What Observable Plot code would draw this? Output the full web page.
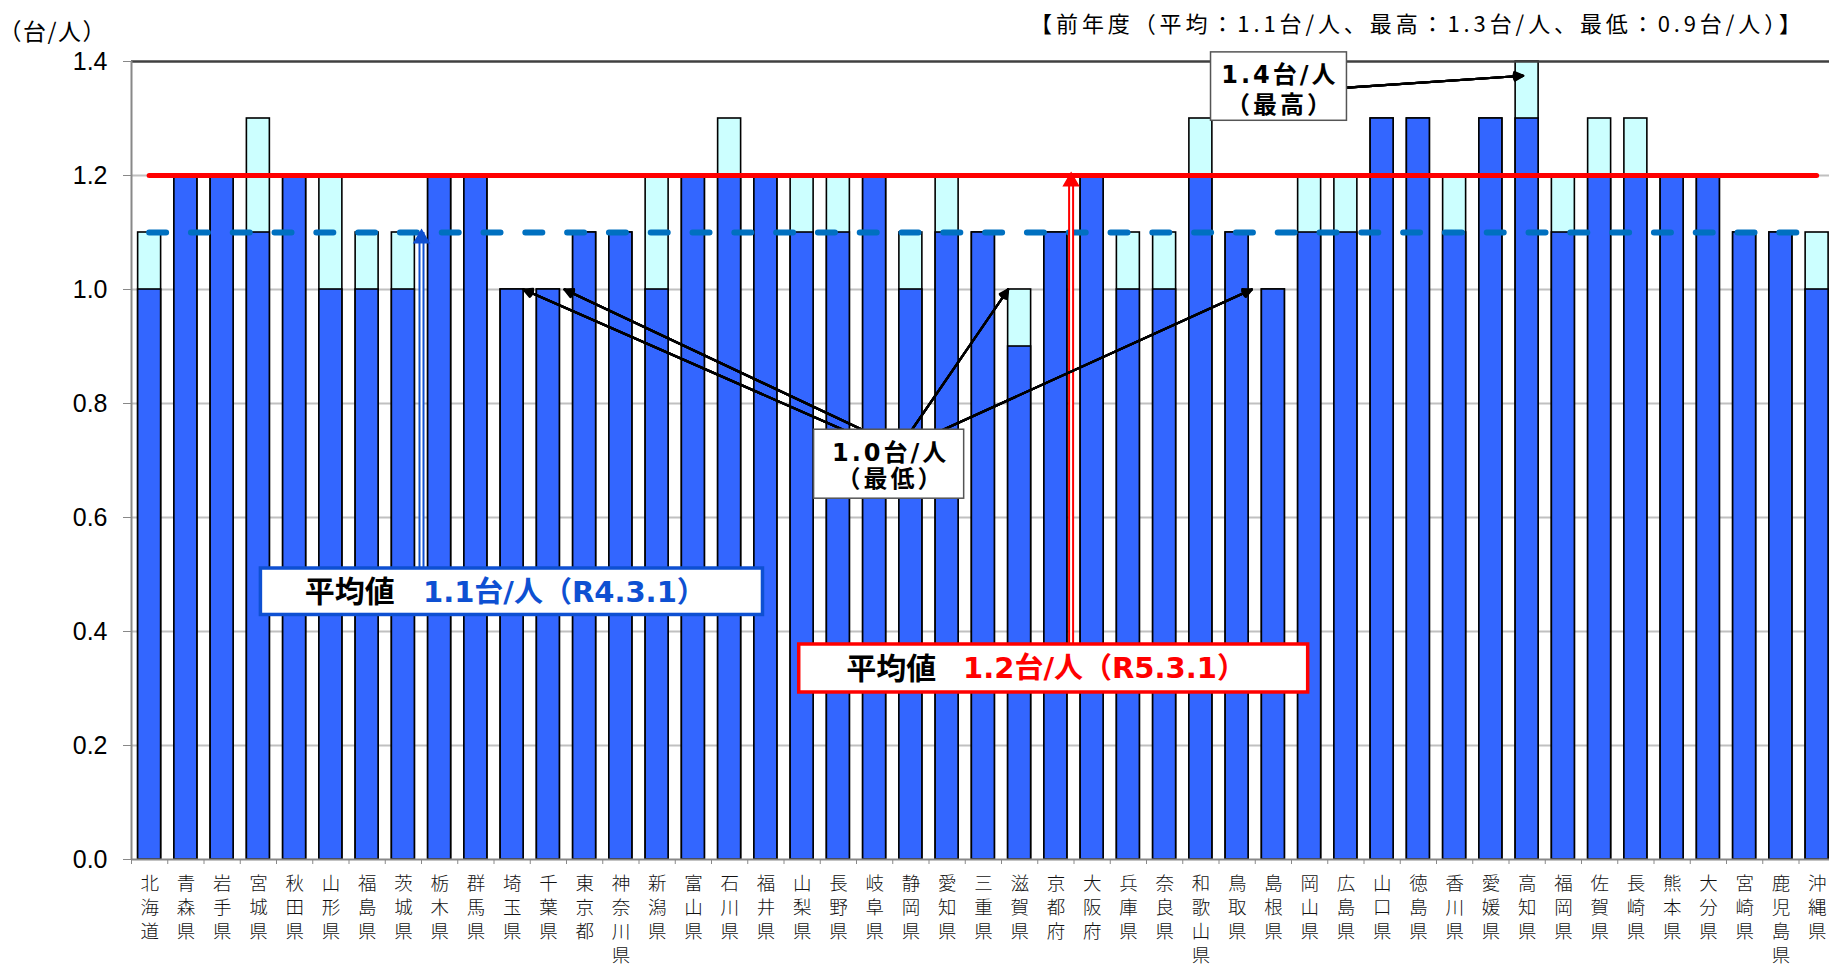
<!DOCTYPE html>
<html>
<head>
<meta charset="utf-8">
<script src="https://cdn.jsdelivr.net/npm/d3@7"></script>
<script src="https://cdn.jsdelivr.net/npm/@observablehq/plot@0.6"></script>
<style>
  body { margin: 0; background: #fff; overflow: hidden; }
  #wrap { position: relative; width: 1829px; height: 969px; }
  #title { position: absolute; top: 6px; right: 24px; z-index: 2;
    font: 22px "Noto Sans CJK JP", sans-serif; color: #000; white-space: nowrap; letter-spacing: 3.9px; }
  g[aria-description="avg-value"] text { letter-spacing: 0px; }
  g[aria-description="extreme-label"] text { letter-spacing: 3px; }
  g[aria-description="unit-label"] text { letter-spacing: 1.5px; }
</style>
</head>
<body>
<div id="wrap"><div id="title">【前年度（平均：1.1台/人、最高：1.3台/人、最低：0.9台/人）】</div></div>
<script>
// ---------- data ----------
const prefectures = ["北海道","青森県","岩手県","宮城県","秋田県","山形県","福島県","茨城県","栃木県","群馬県",
  "埼玉県","千葉県","東京都","神奈川県","新潟県","富山県","石川県","福井県","山梨県","長野県",
  "岐阜県","静岡県","愛知県","三重県","滋賀県","京都府","大阪府","兵庫県","奈良県","和歌山県",
  "鳥取県","島根県","岡山県","広島県","山口県","徳島県","香川県","愛媛県","高知県","福岡県",
  "佐賀県","長崎県","熊本県","大分県","宮崎県","鹿児島県","沖縄県"];
// R4.3.1 (previous year, dark blue)
const previous = [1.0,1.2,1.2,1.1,1.2,1.0,1.0,1.0,1.2,1.2,
  1.0,1.0,1.1,1.1,1.0,1.2,1.2,1.2,1.1,1.1,
  1.2,1.0,1.1,1.1,0.9,1.1,1.2,1.0,1.0,1.2,
  1.1,1.0,1.1,1.1,1.3,1.3,1.1,1.3,1.3,1.1,
  1.2,1.2,1.2,1.2,1.1,1.1,1.0];
// R5.3.1 (current year, light cyan top)
const current = [1.1,1.2,1.2,1.3,1.2,1.2,1.1,1.1,1.2,1.2,
  1.0,1.0,1.1,1.1,1.2,1.2,1.3,1.2,1.2,1.2,
  1.2,1.1,1.2,1.1,1.0,1.1,1.2,1.1,1.1,1.3,
  1.1,1.0,1.2,1.2,1.3,1.3,1.2,1.3,1.4,1.2,
  1.3,1.3,1.2,1.2,1.1,1.1,1.1];
const yTicks = [0.0,0.2,0.4,0.6,0.8,1.0,1.2,1.4];
const avgCurrent = 1.2;   // R5.3.1
const avgPrevious = 1.1;  // R4.3.1
const yAxisUnit = "（台/人）";

// ---------- derived ----------
const n = prefectures.length;
const half = 0.317; // half bar width (in category units)
const rows = prefectures.map((name, i) => ({i, name, prev: previous[i], cur: current[i]}));
const boundaries = d3.range(n + 1).map(i => i - 0.5);
const maxV = d3.max(current), minV = d3.min(current);
const maxIdx = current.indexOf(maxV);
const minIdx = current.map((v, i) => v === minV ? i : -1).filter(i => i >= 0);

// annotation layout (category-index / value coordinates)
const minBox = {x1: 18.33, x2: 22.47, y1: 0.633, y2: 0.754, cx: 20.44, cy: 0.691};
const minStarts = [19.13, 19.66, 21.03, 21.89];
const minArrows = minIdx.map((idx, k) => ({
  x1: minStarts[k], y1: minBox.y2,
  x2: idx < minBox.cx ? idx + half + (k === 1 ? 0.13 : 0) : idx - half - (k === 3 ? 0.28 : 0), y2: minV
}));
const maxBox = {x1: 29.28, x2: 33.03, y1: 1.296, y2: 1.416, cx: 31.18, cy: 1.3526};
const maxArrow = [{x1: 33.03, y1: 1.354, x2: maxIdx - 0.11, y2: maxV - 0.025}];

const blueBox = {x1: 3.07, x2: 16.92, y1: 0.429, y2: 0.5105, ty: 0.468, lx: 5.52, vx: 7.54, ax: 7.5};
const redBox  = {x1: 17.92, x2: 31.96, y1: 0.293, y2: 0.3772, ty: 0.334, lx: 20.46, vx: 22.44, ax: 25.42};

const BLUE = "#3366FF", CYAN = "#CCFFFF", RED = "#FF0000", DASH = "#0070C0", ABLUE = "#0E50D2";
const bold = "DejaVu Sans, 'Noto Sans CJK JP', sans-serif";

function filledArrow(data, extra = {}) {
  return [54, 42, 30, 18, 6].map(a => Plot.arrow(data, {
    x1: "x1", y1: "y1", x2: "x2", y2: "y2", stroke: "#000", strokeWidth: 2.2,
    headAngle: a, headLength: 6.5, ...extra
  }));
}
function vArrow(box, target, color) {
  const d = [{x: box.ax, y1: box.y2, y2: target}];
  return [
    Plot.ruleX(d, {x: "x", y1: "y1", y2: "y2", stroke: color, strokeWidth: 6}),
    Plot.ruleX(d, {x: "x", y1: "y1", y2: "y2", stroke: "#fff", strokeWidth: 2}),
    Plot.dot(d, {x: "x", y: "y2", symbol: "triangle", r: 5.5, fill: color, stroke: color, dy: 6})
  ];
}
function avgBox(box, label, color) {
  return [
    Plot.rect([box], {x1: "x1", x2: "x2", y1: "y1", y2: "y2", fill: "#fff", stroke: color, strokeWidth: 3.5}),
    Plot.text([box], {x: "lx", y: "ty", text: () => "平均値", fill: "#000", fontSize: 30, fontWeight: "bold",
      fontFamily: bold, textAnchor: "middle", lineAnchor: "middle"}),
    Plot.text([box], {x: "vx", y: "ty", text: () => label, fill: color, fontSize: 29, fontWeight: "bold",
      fontFamily: bold, textAnchor: "start", lineAnchor: "middle", ariaDescription: "avg-value"})
  ];
}

const chart = Plot.plot({
  width: 1829,
  height: 969,
  marginTop: 61,
  marginBottom: 110,
  marginLeft: 131,
  marginRight: 0,
  style: {fontFamily: "'Noto Sans CJK JP', sans-serif", fontSize: "20px", background: "#fff", overflow: "visible"},
  x: {type: "linear", domain: [-0.5, n - 0.5], range: [131, 131 + n * 36.25]},
  y: {domain: [0, 1.4], range: [859, 61]},
  marks: [
    // grid
    Plot.gridY(yTicks.filter(v => v > 0 && v < 1.4), {stroke: "#c0c0c0", strokeOpacity: 1, strokeWidth: 2}),
    // bars: current year (cyan) behind, previous year (blue) in front
    Plot.rectY(rows, {x1: d => d.i - half, x2: d => d.i + half, y: "cur", fill: CYAN, stroke: "#000", strokeWidth: 1.6}),
    Plot.rectY(rows, {x1: d => d.i - half, x2: d => d.i + half, y: "prev", fill: BLUE, stroke: "#000", strokeWidth: 1.6}),
    // frame
    Plot.ruleY([1.4], {stroke: "#404040", strokeWidth: 2.5}),
    Plot.ruleY([0], {stroke: "#888", strokeWidth: 2}),
    Plot.ruleX([-0.5], {stroke: "#888", strokeWidth: 2}),
    // axes
    Plot.axisY(yTicks, {tickFormat: d => d.toFixed(1), tickSize: 8, tickPadding: 16, stroke: "#888", fill: "#000",
      fontSize: 25, fontFamily: "'Liberation Sans', Arial, sans-serif", label: null}),
    Plot.axisX(boundaries, {tickSize: 5, tickFormat: () => "", stroke: "#888", label: null}),
    Plot.axisX(rows.map(d => d.i), {tickSize: 0, tickPadding: 13, tickFormat: i => [...prefectures[i]].join("\n"),
      fontSize: 18.5, lineHeight: 1.3, fill: "#111", fontWeight: 300, label: null}),
    Plot.text([yAxisUnit], {frameAnchor: "top-left", dx: -133, dy: -29, textAnchor: "start", lineAnchor: "middle",
      fontSize: 23, fill: "#000", ariaDescription: "unit-label"}),
    // average lines
    Plot.ruleY([{y: avgPrevious, x1: 0, x2: n - 1}], {y: "y", x1: "x1", x2: "x2", stroke: DASH, strokeWidth: 6,
      strokeDasharray: "17,24.8", strokeLinecap: "round"}),
    Plot.ruleY([{y: avgCurrent, x1: 0, x2: n - 1}], {y: "y", x1: "x1", x2: "x2", stroke: RED, strokeWidth: 5,
      strokeLinecap: "round"}),
    // average annotations
    ...vArrow(blueBox, avgPrevious, ABLUE),
    ...vArrow(redBox, avgCurrent, RED),
    ...avgBox(blueBox, `${avgPrevious.toFixed(1)}台/人（R4.3.1）`, ABLUE),
    ...avgBox(redBox, `${avgCurrent.toFixed(1)}台/人（R5.3.1）`, RED),
    // min annotation
    ...filledArrow(minArrows),
    Plot.rect([minBox], {x1: "x1", x2: "x2", y1: "y1", y2: "y2", fill: "#fff", stroke: "#555", strokeWidth: 1.5}),
    Plot.text([minBox], {x: "cx", y: "cy", text: () => `${minV.toFixed(1)}台/人\n（最低）`, fontSize: 24, fontWeight: "bold",
      fontFamily: bold, lineHeight: 1.1, fill: "#000", lineAnchor: "middle", ariaDescription: "extreme-label"}),
    // max annotation
    ...filledArrow(maxArrow),
    Plot.rect([maxBox], {x1: "x1", x2: "x2", y1: "y1", y2: "y2", fill: "#fff", stroke: "#555", strokeWidth: 1.5}),
    Plot.text([maxBox], {x: "cx", y: "cy", text: () => `${maxV.toFixed(1)}台/人\n（最高）`, fontSize: 24, fontWeight: "bold",
      fontFamily: bold, lineHeight: 1.25, fill: "#000", lineAnchor: "middle", ariaDescription: "extreme-label"})
  ]
});
document.getElementById("wrap").prepend(chart);
</script>
</body>
</html>
